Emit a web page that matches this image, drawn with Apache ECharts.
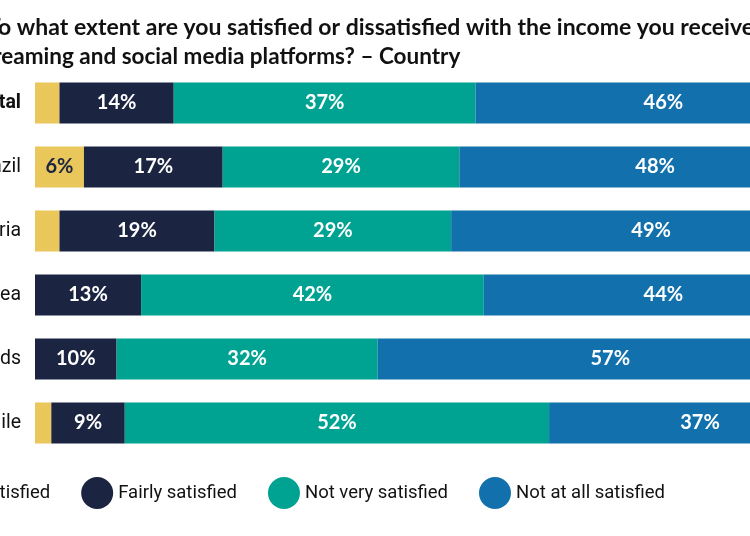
<!DOCTYPE html>
<html>
<head>
<meta charset="utf-8">
<script src="https://cdn.jsdelivr.net/npm/echarts@6/dist/echarts.min.js"></script>
<style>
	html, body { margin: 0; padding: 0; background: #fff; }
	#chart { width: 750px; height: 536px; }
</style>
</head>
<body>
<div id="chart"></div>
<script>
const countries = ["Total", "Brazil", "Nigeria", "South Korea", "Netherlands", "Chile"];
const seriesNames = ["Very satisfied", "Fairly satisfied", "Not very satisfied", "Not at all satisfied"];
const verySatisfied = [3, 6, 3, 0, 0, 2];
const fairlySatisfied = [14, 17, 19, 13, 10, 9];
const notVerySatisfied = [37, 29, 29, 42, 32, 52];
const notAtAllSatisfied = [46, 48, 49, 44, 57, 37];
const colors = ["#e9c75b", "#1b2441", "#00a392", "#1271ac"];
const titleLines = [
	"To what extent are you satisfied or dissatisfied with the income you receive from",
	"streaming and social media platforms? \u2013 Country",
];

const chart = echarts.init(document.getElementById("chart"));
const values = [verySatisfied, fairlySatisfied, notVerySatisfied, notAtAllSatisfied];

chart.setOption({
	animation: false,
	color: colors,
	graphic: [
		{
			type: "text",
			left: -13,
			top: 16,
			style: { text: titleLines[0], font: "bold 23px Lato", fill: "#111" },
		},
		{
			type: "text",
			left: -25,
			top: 45,
			style: { text: titleLines[1], font: "bold 22.5px Lato", fill: "#111" },
		},
	],
	legend: {
		left: -103,
		top: 472,
		itemWidth: 32,
		itemHeight: 32,
		itemGap: 31,
		icon: "circle",
		textStyle: { fontFamily: "Roboto", fontSize: 18.5, color: "#111" },
		data: seriesNames,
	},
	grid: { left: 35, width: 816, top: 71, height: 384, outerBoundsMode: "none" },
	xAxis: { type: "value", min: 0, max: 100, show: false },
	yAxis: {
		type: "category",
		data: countries,
		inverse: true,
		axisLine: { show: false },
		axisTick: { show: false },
		axisLabel: {
			margin: 14,
			fontFamily: "Roboto",
			fontSize: 19.5,
			color: "#111",
			formatter: v => (v === "Total" ? "{b|" + v + "}" : v),
			rich: { b: { fontFamily: "Roboto", fontSize: 19.5, fontWeight: "bold", color: "#111" } },
		},
	},
	series: seriesNames.map((name, i) => ({
		name,
		type: "bar",
		stack: "all",
		barWidth: 41,
		data: values[i],
		label: {
			show: true,
			position: "inside",
			fontFamily: "Lato",
			fontWeight: "bold",
			fontSize: 20,
			color: i === 0 ? "#1b2441" : "#fff",
			formatter: p => (p.value >= 5 ? p.value + "%" : ""),
		},
	})),
});
</script>
</body>
</html>
